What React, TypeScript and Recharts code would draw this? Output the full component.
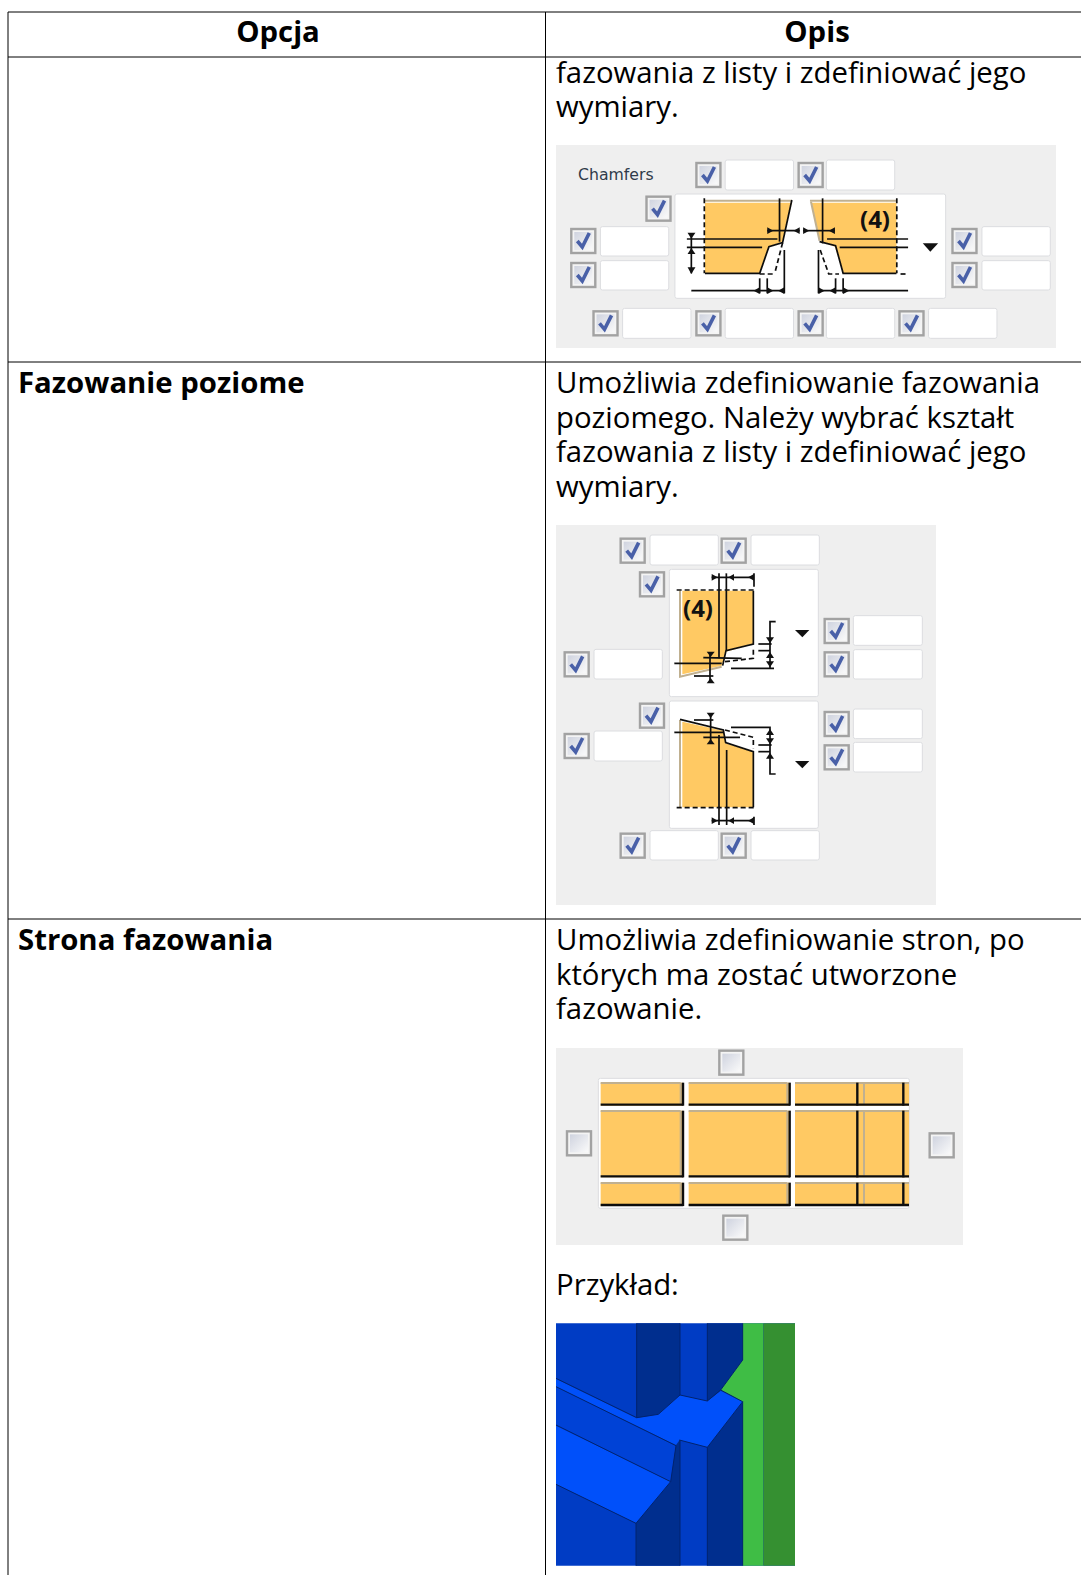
import React from 'react'
import { ScatterChart, Scatter, XAxis, YAxis, ReferenceLine, ReferenceArea } from 'recharts'

type Pt = number[]

// crop helpers: the panels were measured on zoomed crops of the page
const crop1 = (p: Pt): Pt => [545 + p[0] / 2.925, 130 + p[1] / 3]
const crop2 = (p: Pt): Pt => [550 + p[0] / 3, 520 + p[1] / 3]
const crop3 = (p: Pt): Pt => [550 + p[0] / 3, 700 + p[1] / 3]
const crop4 = (p: Pt): Pt => [550 + p[0] / 3, 1040 + p[1] / 3]
const crop5 = (p: Pt): Pt => [550 + p[0] / 3, 1315 + p[1] / 3]
const flat = (f: (p: Pt) => Pt, list: number[][][]) => list.map(path => path.map(f))
const rect = (f: (p: Pt) => Pt, r: number[]) => [f([r[0], r[1]]), f([r[2], r[3]])]

// table text
const headerLabels = [
  { x: 278, y: 42, t: 'Opcja' },
  { x: 817, y: 42, t: 'Opis' },
]
const optionLabels = [
  { x: 18, y: 393, t: 'Fazowanie poziome' },
  { x: 18, y: 950, t: 'Strona fazowania' },
]
const bodyLines = [
  { x: 556, y: 83, t: 'fazowania z listy i zdefiniować jego' },
  { x: 556, y: 117, t: 'wymiary.' },
  { x: 556, y: 393, t: 'Umożliwia zdefiniowanie fazowania' },
  { x: 556, y: 428, t: 'poziomego. Należy wybrać kształt' },
  { x: 556, y: 462, t: 'fazowania z listy i zdefiniować jego' },
  { x: 556, y: 497, t: 'wymiary.' },
  { x: 556, y: 950, t: 'Umożliwia zdefiniowanie stron, po' },
  { x: 556, y: 985, t: 'których ma zostać utworzone' },
  { x: 556, y: 1019, t: 'fazowanie.' },
  { x: 556, y: 1295, t: 'Przykład:' },
]
const gridRows = [12, 57, 362, 919]
const gridCols = [8, 545.5]

// grey dialog panels
const panels = [
  [556, 145, 1056, 348],
  [556, 525, 936, 905],
  [556, 1048, 963, 1245],
]

// checkboxes
const checkedBoxes = [
  ...[[478, 135], [777, 135], [332, 236], [112, 333], [112, 435], [1227, 333], [1227, 435], [177, 580], [478, 580], [777, 580], [1072, 580]].map(crop1),
  ...[[248, 92], [551, 92], [306, 193], [80, 433], [860, 333], [860, 433]].map(crop2),
  ...[[306, 47], [80, 138], [860, 72], [860, 172], [248, 437], [551, 437]].map(crop3),
]
const emptyBoxes = [[544, 68], [87, 310], [1175, 316], [556, 563]].map(crop4)

// white entry fields and preview boxes
const whiteBoxes = [
  ...[[527, 90, 727, 180], [823, 90, 1023, 180], [162, 290, 362, 378], [162, 392, 362, 480], [1278, 290, 1478, 378], [1278, 392, 1478, 480], [227, 535, 427, 625], [527, 535, 727, 625], [823, 535, 1023, 625], [1122, 535, 1322, 625], [380, 192, 1172, 505]].map(r => rect(crop1, r)),
  ...[[300, 45, 505, 135], [603, 45, 808, 135], [132, 388, 337, 477], [910, 287, 1117, 376], [910, 389, 1117, 477], [358, 148, 805, 530]].map(r => rect(crop2, r)),
  ...[[132, 93, 337, 183], [910, 27, 1117, 116], [910, 127, 1117, 216], [300, 392, 505, 480], [603, 392, 808, 480], [358, 3, 805, 385]].map(r => rect(crop3, r)),
  rect(crop4, [145, 115, 1078, 505]),
]

// chamfer drawings, orange profile areas
const orangeAreas = [
  ...flat(crop1, [
    [[468, 218], [722, 218], [695, 335], [655, 350], [628, 430], [468, 430]],
    [[780, 218], [1028, 218], [1028, 430], [872, 430], [848, 350], [822, 340], [803, 330]],
  ]),
  ...flat(crop2, [[[397, 212], [610, 212], [610, 372], [528, 395], [515, 437], [397, 463]]]),
  ...flat(crop3, [[[397, 65], [520, 92], [527, 130], [610, 155], [610, 322], [397, 322]]]),
  ...flat(crop4, [152, 416, 735].flatMap((x0, i) => [[128, 197], [212, 412], [428, 498]].map(([y0, y1]) => {
    const x1 = [398, 718, 1077][i]
    return [[x0, y0], [x1, y0], [x1, y1], [x0, y1]]
  }))),
]
const greyEdges = [
  ...flat(crop1, [
    [[468, 212], [722, 212]],
    [[775, 212], [1028, 212]],
    [[778, 215], [803, 332]],
  ]),
  ...flat(crop2, [[[390, 212], [390, 470], [515, 440]]]),
  ...flat(crop3, [[[390, 60], [390, 322]]]),
  ...flat(crop4, [152, 416, 735].flatMap((x0, i) => {
    const x1 = [392, 712, 1077][i]
    return [[128, 197], [212, 412], [428, 498]].flatMap(([y0, y1]) => {
      const inner = i < 2 ? [x1] : [942]
      return [[[x0, y0 + 1], [x1, y0 + 1]], ...inner.map(v => [[v, y0], [v, y1 - 6]])]
    })
  })),
]
const blackLines = [
  ...flat(crop1, [
    [[468, 430], [628, 430], [655, 350], [695, 338], [722, 210]],
    [[803, 335], [850, 347], [872, 430], [1028, 430]],
    [[415, 327], [680, 327]], [[415, 352], [635, 352]], [[428, 310], [428, 430]],
    [[686, 205], [686, 335]], [[700, 360], [700, 490]], [[650, 302], [745, 302]],
    [[428, 482], [700, 482]], [[628, 445], [628, 490]], [[650, 445], [650, 490]],
    [[812, 205], [812, 340]], [[755, 302], [848, 302]], [[825, 327], [1062, 327]],
    [[862, 352], [1062, 352]], [[800, 360], [800, 490]], [[800, 482], [1062, 482]],
    [[850, 445], [850, 490]], [[872, 445], [872, 490]],
  ]),
  ...flat(crop2, [
    [[610, 212], [610, 372], [528, 392], [518, 437]],
    [[507, 160], [507, 415]], [[529, 160], [529, 390]], [[485, 172], [612, 172]],
    [[612, 160], [612, 200]], [[373, 430], [515, 430]], [[460, 413], [575, 415]],
    [[480, 400], [480, 485]], [[432, 468], [490, 468]], [[677, 305], [660, 305], [660, 445]],
    [[625, 372], [665, 372]], [[625, 392], [660, 392]], [[543, 445], [672, 445]],
  ]),
  ...flat(crop3, [
    [[390, 58], [520, 90], [527, 128], [610, 155], [610, 322]],
    [[507, 105], [507, 375]], [[530, 150], [530, 375]], [[485, 362], [612, 362]],
    [[612, 350], [612, 375]], [[373, 97], [520, 97]], [[460, 112], [570, 112]],
    [[482, 40], [482, 130]], [[432, 60], [490, 60]], [[543, 82], [660, 82], [660, 222], [677, 222]],
    [[625, 135], [665, 135]], [[625, 155], [660, 155]],
  ]),
]
// thick cell borders of the side picker
const pickerBorders = flat(crop4, [152, 416, 735].flatMap((x0, i) => {
  const x1 = [400, 720, 1077][i]
  return [[128, 197], [212, 412], [428, 498]].flatMap(([y0, y1]) => {
    const verticals = i < 2 ? [x1 - 1] : [922, 1060]
    return [[[x0, y1 - 3], [x1, y1 - 3]], ...verticals.map(v => [[v, y0], [v, y1]])]
  })
}))
const dashedLines = [
  ...flat(crop1, [
    [[466, 205], [466, 430]], [[628, 432], [670, 432]], [[695, 338], [672, 430]],
    [[1029, 205], [1029, 430]], [[1040, 432], [1062, 432]], [[805, 360], [830, 432], [860, 432]],
  ]),
  ...flat(crop2, [[[380, 210], [618, 210]], [[525, 425], [610, 415], [610, 385]]]),
  ...flat(crop3, [[[380, 323], [618, 323]], [[525, 90], [610, 112], [610, 145]]]),
]
const blackTriangles = [
  ...flat(crop1, [
    [[1105, 340], [1150, 340], [1127, 365]],
    [[417, 308], [440, 308], [428, 326]], [[417, 372], [440, 372], [428, 354]], [[417, 412], [440, 412], [428, 432]],
    [[650, 292], [650, 312], [668, 302]], [[745, 292], [745, 312], [727, 302]],
    [[755, 292], [755, 312], [773, 302]], [[848, 292], [848, 312], [830, 302]],
    [[628, 472], [628, 492], [610, 482]], [[650, 472], [650, 492], [668, 482]], [[700, 472], [700, 492], [682, 482]],
    [[800, 472], [800, 492], [818, 482]], [[850, 472], [850, 492], [832, 482]], [[872, 472], [872, 492], [890, 482]],
  ]),
  ...flat(crop2, [
    [[735, 330], [778, 330], [757, 352]],
    [[485, 162], [485, 182], [503, 172]], [[535, 172], [552, 162], [552, 182]], [[612, 162], [612, 182], [594, 172]],
    [[470, 395], [494, 395], [482, 411]], [[470, 490], [494, 490], [482, 474]],
    [[648, 352], [672, 352], [660, 370]], [[648, 414], [672, 414], [660, 396]], [[648, 424], [672, 424], [660, 442]],
  ]),
  ...flat(crop3, [
    [[735, 183], [778, 183], [757, 205]],
    [[485, 352], [485, 372], [503, 362]], [[535, 362], [552, 352], [552, 372]], [[612, 352], [612, 372], [594, 362]],
    [[470, 38], [494, 38], [482, 54]], [[470, 133], [494, 133], [482, 117]],
    [[648, 105], [672, 105], [660, 87]], [[648, 115], [672, 115], [660, 133]], [[648, 176], [672, 176], [660, 158]],
  ]),
]
const chamferLabels = [
  { x: 860, y: 228, t: '(4)' },
  { x: 683, y: 617, t: '(4)' },
]
const dialogCaption = [{ x: 578, y: 180, t: 'Chamfers' }]

// 3D example picture, one list per colour, painted in this order
const midBlue = flat(crop5, [
  [[18, 25], [735, 25], [735, 752], [18, 752]],
])
const lightBand = flat(crop5, [
  [[18, 215], [378, 392], [362, 500], [18, 330]],
])
const darkBlue = flat(crop5, [
  [[260, 25], [390, 25], [390, 240], [325, 298], [260, 308]],
  [[472, 25], [578, 25], [578, 135], [512, 225], [478, 258], [472, 258]],
  [[258, 625], [362, 500], [378, 390], [390, 375], [390, 752], [258, 752]],
  [[472, 397], [578, 260], [578, 752], [472, 752]],
])
const brightBlue = flat(crop5, [
  [[260, 310], [325, 298], [390, 240], [472, 258], [512, 228], [578, 260], [472, 397], [388, 375], [378, 390], [18, 215], [18, 192]],
  [[18, 332], [362, 500], [258, 625], [18, 508]],
])
const greenFace = flat(crop5, [
  [[578, 25], [640, 25], [640, 752], [578, 752], [578, 260], [512, 225], [578, 135]],
])
const darkGreenFace = flat(crop5, [
  [[640, 25], [735, 25], [735, 752], [640, 752]],
])
const navyEdges = flat(crop5, [
  [[18, 190], [260, 308], [325, 298], [390, 240], [472, 258], [512, 225], [578, 260]],
  [[18, 215], [378, 392], [362, 500], [18, 330]],
  [[362, 500], [258, 625], [18, 508]],
  [[260, 25], [260, 308]], [[390, 25], [390, 240]], [[472, 25], [472, 258]], [[578, 25], [578, 135], [512, 225]],
  [[258, 625], [258, 752]], [[390, 375], [390, 752]], [[472, 397], [472, 752]], [[388, 375], [472, 397], [578, 260], [578, 752]],
])

const textFont = '"Open Sans", sans-serif'
const anchored = (paths: number[][][]) => paths.map(pts => ({ x: pts[0][0], y: pts[0][1], pts }))
const atPoint = (list: number[][]) => list.map(p => ({ x: p[0], y: p[1] }))

// draws a path through the axis position of its first vertex
const pathShape = (style: any, closed: boolean) => (props: any) => {
  const { cx, cy, payload } = props
  const d = payload.pts
    .map((p: Pt, i: number) => `${i ? 'L' : 'M'}${cx + p[0] - payload.x} ${cy + p[1] - payload.y}`)
    .join(' ')
  return <path d={closed ? d + ' Z' : d} fill={closed ? style.fill : 'none'} {...style} />
}

const fieldShape = (props: any) => {
  const { cx, cy, payload } = props
  const w = payload.pts[1][0] - payload.pts[0][0]
  const h = payload.pts[1][1] - payload.pts[0][1]
  return <rect x={cx} y={cy} width={w} height={h} rx={2} fill="#ffffff" stroke="#dcdde0" strokeWidth={1} filter="url(#soft)" />
}

const boxShape = (checked: boolean) => (props: any) => {
  const { cx, cy } = props
  return (
    <g filter="url(#soft)">
      <rect x={cx - 12} y={cy - 12} width={24} height={24} fill="#f4f4f4" stroke="#a2a2a2" strokeWidth={2.4} />
      <rect x={cx - 9} y={cy - 9} width={18} height={18} fill="url(#boxFill)" />
      {checked && (
        <path d={`M${cx - 6} ${cy} L${cx - 1} ${cy + 6} L${cx + 6} ${cy - 8}`} fill="none" stroke="#4a61a8" strokeWidth={3.6} />
      )}
    </g>
  )
}

const textShape = (style: any) => (props: any) => (
  <text x={props.cx} y={props.cy} {...style}>{props.payload.t}</text>
)

export default function App() {
  const fill = (data: number[][][], color: string) => (
    <Scatter data={anchored(data)} isAnimationActive={false} shape={pathShape({ fill: color }, true)} />
  )
  const stroke = (data: number[][][], color: string, width: number, dash?: string, soft = true) => (
    <Scatter
      data={anchored(data)}
      isAnimationActive={false}
      shape={pathShape({ stroke: color, strokeWidth: width, strokeDasharray: dash, filter: soft ? 'url(#soft)' : undefined }, false)}
    />
  )

  return (
    <div style={{ position: 'absolute', left: 0, top: 0, width: 1081, height: 1575, background: '#ffffff' }}>
      <ScatterChart width={1081} height={1575} margin={{ top: 0, right: 0, bottom: 0, left: 0 }}>
        <defs>
          {/* user-space region, straight lines have an empty bounding box */}
          <filter id="soft" filterUnits="userSpaceOnUse" x="0" y="0" width="1081" height="1575">
            <feGaussianBlur stdDeviation="0.4" />
          </filter>
          <linearGradient id="boxFill" x1="0" y1="0" x2="1" y2="1">
            <stop offset="0%" stopColor="#cfd3df" />
            <stop offset="100%" stopColor="#fafafa" />
          </linearGradient>
        </defs>
        <XAxis type="number" dataKey="x" domain={[0, 1081]} hide allowDataOverflow />
        <YAxis type="number" dataKey="y" domain={[0, 1575]} reversed hide allowDataOverflow />

        {panels.map((p, i) => (
          <ReferenceArea key={i} x1={p[0]} x2={p[2]} y1={p[1]} y2={p[3]} fill="#efefef" fillOpacity={1} stroke="none" />
        ))}
        {gridRows.map(y => (
          <ReferenceLine key={y} segment={[{ x: 8, y }, { x: 1081, y }]} stroke="#000000" strokeWidth={1} />
        ))}
        {gridCols.map(x => (
          <ReferenceLine key={x} segment={[{ x, y: 12 }, { x, y: 1575 }]} stroke="#000000" strokeWidth={1} />
        ))}

        <Scatter data={whiteBoxes.map(r => ({ x: r[0][0], y: r[0][1], pts: r }))} isAnimationActive={false} shape={fieldShape} />
        {fill(orangeAreas, '#ffc963')}
        {stroke(greyEdges, '#c0b090', 2)}
        {stroke(blackLines, '#111111', 1.7)}
        {stroke(pickerBorders, '#111111', 2.4)}
        {stroke(dashedLines, '#111111', 1.7, '5 3')}
        {fill(blackTriangles, '#111111')}
        <Scatter data={atPoint(checkedBoxes)} isAnimationActive={false} shape={boxShape(true)} />
        <Scatter data={atPoint(emptyBoxes)} isAnimationActive={false} shape={boxShape(false)} />

        {fill(midBlue, '#003cc4')}
        {fill(lightBand, '#0042d6')}
        {fill(darkBlue, '#002e8e')}
        {fill(brightBlue, '#0050fa')}
        {fill(greenFace, '#3fbd45')}
        {fill(darkGreenFace, '#359031')}
        {stroke(navyEdges, '#00236e', 1, undefined, false)}

        <Scatter data={dialogCaption} isAnimationActive={false} shape={textShape({ fontFamily: '"DejaVu Sans", sans-serif', fontSize: 15.7, fill: '#2f3b4a' })} />
        <Scatter data={chamferLabels} isAnimationActive={false} shape={textShape({ fontFamily: '"Noto Sans", sans-serif', fontWeight: 700, fontSize: 24, fill: '#111111' })} />
        <Scatter data={headerLabels} isAnimationActive={false} shape={textShape({ fontFamily: textFont, fontWeight: 700, fontSize: 29.33, fill: '#000000', textAnchor: 'middle' })} />
        <Scatter data={optionLabels} isAnimationActive={false} shape={textShape({ fontFamily: textFont, fontWeight: 700, fontSize: 29.33, fill: '#000000' })} />
        <Scatter data={bodyLines} isAnimationActive={false} shape={textShape({ fontFamily: textFont, fontSize: 29.33, fill: '#000000' })} />
      </ScatterChart>
    </div>
  )
}
